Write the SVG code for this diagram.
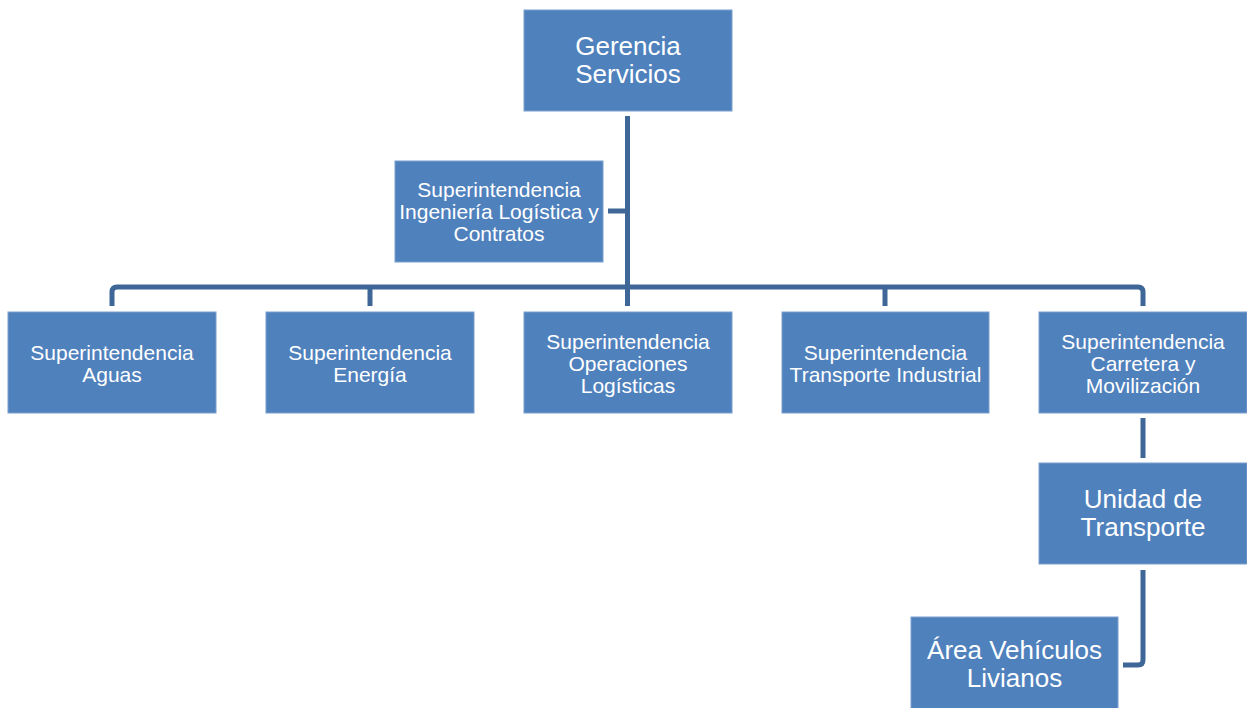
<svg xmlns="http://www.w3.org/2000/svg" width="1247" height="708" viewBox="0 0 1247 708">
  <style>
    .box { fill: #4F81BD; stroke: #7A9FCF; stroke-width: 1; }
    .lbl { fill: #FFFFFF; font-family: "Liberation Sans", Arial, sans-serif; text-anchor: middle; dominant-baseline: central; }
    .s { font-size: 21px; }
    .l { font-size: 26px; }
    .wire { fill: none; stroke: #3E6797; stroke-width: 5; stroke-linejoin: round; }
  </style>
  <rect width="1247" height="708" fill="#FFFFFF"/>

  <!-- connectors -->
  <g id="connectors" class="wire">
    <path d="M627.5,116 V306"/>
    <path d="M608,211 H627.5"/>
    <path d="M112,306 V292 Q112,287 117,287 H1138 Q1143,287 1143,292 V306"/>
    <path d="M370,287 V306"/>
    <path d="M885,287 V306"/>
    <path d="M1143,418 V458"/>
    <path d="M1143,570 V660 Q1143,665 1138,665 H1123"/>
  </g>

  <g id="gerencia">
    <rect class="box" x="524" y="10" width="208" height="101"/>
    <text class="lbl l" x="628" y="46">Gerencia</text>
    <text class="lbl l" x="628" y="74">Servicios</text>
  </g>

  <g id="ingenieria">
    <rect class="box" x="395" y="161" width="208" height="101"/>
    <text class="lbl s" x="499" y="189">Superintendencia</text>
    <text class="lbl s" x="499" y="211">Ingeniería Logística y</text>
    <text class="lbl s" x="499" y="233">Contratos</text>
  </g>

  <g id="aguas">
    <rect class="box" x="8" y="312" width="208" height="101"/>
    <text class="lbl s" x="112" y="352">Superintendencia</text>
    <text class="lbl s" x="112" y="374">Aguas</text>
  </g>

  <g id="energia">
    <rect class="box" x="266" y="312" width="208" height="101"/>
    <text class="lbl s" x="370" y="352">Superintendencia</text>
    <text class="lbl s" x="370" y="374">Energía</text>
  </g>

  <g id="operaciones">
    <rect class="box" x="524" y="312" width="208" height="101"/>
    <text class="lbl s" x="628" y="341">Superintendencia</text>
    <text class="lbl s" x="628" y="363">Operaciones</text>
    <text class="lbl s" x="628" y="385">Logísticas</text>
  </g>

  <g id="transporte-industrial">
    <rect class="box" x="782" y="312" width="207" height="101"/>
    <text class="lbl s" x="885.5" y="352">Superintendencia</text>
    <text class="lbl s" x="885.5" y="374">Transporte Industrial</text>
  </g>

  <g id="carretera">
    <rect class="box" x="1039" y="312" width="208" height="101"/>
    <text class="lbl s" x="1143" y="341">Superintendencia</text>
    <text class="lbl s" x="1143" y="363">Carretera y</text>
    <text class="lbl s" x="1143" y="385">Movilización</text>
  </g>

  <g id="unidad-transporte">
    <rect class="box" x="1039" y="463" width="208" height="101"/>
    <text class="lbl l" x="1143" y="499">Unidad de</text>
    <text class="lbl l" x="1143" y="527">Transporte</text>
  </g>

  <g id="vehiculos-livianos">
    <rect class="box" x="911" y="617" width="207" height="101"/>
    <text class="lbl l" x="1014.5" y="650">Área Vehículos</text>
    <text class="lbl l" x="1014.5" y="678">Livianos</text>
  </g>
</svg>
